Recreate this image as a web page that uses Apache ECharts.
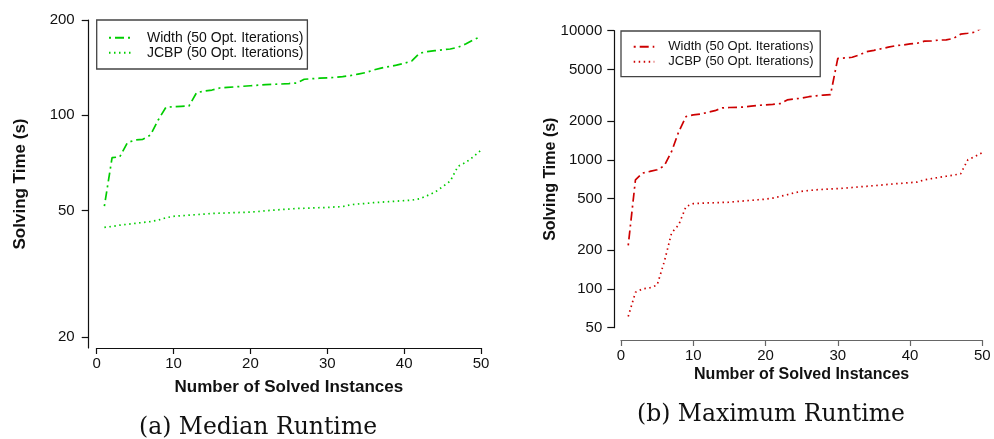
<!DOCTYPE html>
<html>
<head>
<meta charset="utf-8">
<script src="https://cdn.jsdelivr.net/npm/echarts@6.0.0/dist/echarts.min.js"></script>
<style>
  html, body { margin: 0; padding: 0; background: #fff; }
  #wrap { position: relative; width: 994px; height: 439px; }
  #left { position: absolute; left: 0; top: 0; width: 497px; height: 439px; }
  #right { position: absolute; left: 497px; top: 0; width: 497px; height: 439px; }
</style>
</head>
<body>
<div id="wrap"><div id="left"></div><div id="right"></div></div>
<script>
// ---- data ----
const instances = [1,2,3,4,5,6,7,8,9,10,11,12,13,14,15,16,17,18,19,20,21,22,23,24,25,26,27,28,29,30,31,32,33,34,35,36,37,38,39,40,41,42,43,44,45,46,47,48,49,50];

const widthMedian = [51.7,73.5,74.0,82.0,83.6,84.0,86.7,96.7,106.0,106.5,106.8,107.0,118.0,119.3,120.2,122.0,122.5,123.0,123.5,124.0,124.5,125.0,125.3,125.6,126.0,126.5,130.0,130.5,131.0,131.3,131.8,132.5,133.5,135.0,136.5,139.0,141.0,142.5,144.0,146.0,148.5,157.0,159.0,160.0,161.0,162.0,164.0,168.0,173.0,177.5];
const jcbpMedian = [44.3,44.6,45.0,45.3,45.6,45.9,46.2,46.7,47.5,48.0,48.2,48.4,48.6,48.8,49.0,49.1,49.2,49.3,49.4,49.5,49.7,50.0,50.2,50.4,50.6,50.8,50.9,51.0,51.1,51.2,51.4,51.5,52.2,52.5,52.7,53.0,53.2,53.4,53.6,53.8,54.0,54.5,55.8,57.2,59.5,62.0,69.0,71.0,74.0,77.7];

const widthMax = [217,700,789,812,837,899,1159,1655,2163,2229,2260,2330,2400,2520,2540,2550,2560,2600,2640,2665,2690,2720,2910,2960,3000,3080,3130,3170,3200,6100,6150,6230,6500,6880,7050,7250,7450,7650,7750,7900,8000,8300,8350,8450,8500,8700,9400,9550,9750,10600];
const jcbpMax = [61,94,100,102,107,163,271,314,435,457,460,463,465,467,469,475,480,485,490,495,505,520,536,555,570,578,585,590,595,598,603,610,617,623,630,637,645,652,658,665,672,700,715,730,745,760,779,1000,1060,1138];

const xTicks = [0,10,20,30,40,50];
const medianYTicks = [20,50,100,200];
const maxYTicks = [50,100,200,500,1000,2000,5000,10000];

const seriesNames = ['Width (50 Opt. Iterations)', 'JCBP (50 Opt. Iterations)'];
const captions = ['(a) Median Runtime', '(b) Maximum Runtime'];
const xName = 'Number of Solved Instances';
const yName = 'Solving Time (s)';

// ---- helpers ----
const SANS = '"Liberation Sans", Arial, Helvetica, sans-serif';
const SERIF = '"DejaVu Serif", "Liberation Serif", serif';
function pairs(ys) { return instances.map((x, i) => [x, ys[i]]); }

function build(cfg) {
  return {
    animation: false,
    textStyle: { fontFamily: SANS },
    title: {
      text: cfg.caption, left: cfg.capLeft, top: cfg.capTop, padding: 0,
      textStyle: { fontFamily: SERIF, fontWeight: 'normal', fontSize: 23.5, color: '#111' }
    },
    legend: {
      orient: 'vertical', left: cfg.legLeft, top: cfg.legTop,
      padding: cfg.legPad, itemWidth: cfg.legItemW, itemHeight: cfg.legItemH, itemGap: cfg.legGap,
      borderColor: '#444', borderWidth: 1.3,
      itemStyle: { opacity: 0 },
      textStyle: { fontFamily: SANS, fontSize: cfg.legFont, color: '#111', padding: [0, 0, 0, 9] },
      data: seriesNames
    },
    grid: { left: cfg.gridL, right: cfg.gridR, top: cfg.gridT, bottom: cfg.gridB, containLabel: false },
    xAxis: {
      type: 'value', min: 0, max: 50, interval: 10, offset: cfg.xOffset,
      name: xName, nameLocation: 'middle', nameGap: cfg.xNameGap, nameMoveOverlap: false,
      nameTextStyle: { fontFamily: SANS, fontWeight: 'bold', fontSize: cfg.nameFont, color: '#111' },
      axisLine: { onZero: false, lineStyle: { color: cfg.xLineColor, width: 1.2 } },
      axisTick: { length: 6, lineStyle: { color: cfg.xLineColor, width: 1.2 } },
      axisLabel: { fontSize: 15, color: '#111', margin: 8, customValues: xTicks },
      splitLine: { show: false }
    },
    yAxis: {
      type: 'log', min: cfg.yMin, max: cfg.yMax, offset: cfg.yOffset,
      name: yName, nameLocation: 'middle', nameGap: cfg.yNameGap, nameMoveOverlap: false,
      nameTextStyle: { fontFamily: SANS, fontWeight: 'bold', fontSize: cfg.nameFont, color: '#111' },
      axisLine: { show: true, onZero: false, lineStyle: { color: '#111', width: 1.2 } },
      axisTick: { show: true, length: 7, lineStyle: { color: '#111', width: 1.2 }, customValues: cfg.yTicks },
      axisLabel: { fontSize: 15, color: '#111', margin: cfg.yLabelMargin, customValues: cfg.yTicks,
                   formatter: v => String(Math.round(v)) },
      splitLine: { show: false }
    },
    series: [
      { name: seriesNames[0], type: 'line', symbol: 'none', data: pairs(cfg.width),
        lineStyle: { color: cfg.color, width: 1.7, type: [2, 4, 9, 4] }, itemStyle: { color: cfg.color } },
      { name: seriesNames[1], type: 'line', symbol: 'none', data: pairs(cfg.jcbp),
        lineStyle: { color: cfg.color, width: 1.7, type: [1.5, 3.5] }, itemStyle: { color: cfg.color } }
    ]
  };
}

const left = echarts.init(document.getElementById('left'), null, { renderer: 'canvas' });
left.setOption(build({
  caption: captions[0], capLeft: 139, capTop: 416,
  legLeft: 96.7, legTop: 20, legPad: [10.7, 4, 9.3, 11.3], legItemW: 24, legItemH: 14, legGap: 1, legFont: 14,
  gridL: 96.7, gridR: 16, gridT: 20, gridB: 91,
  xOffset: 0, xNameGap: 31, xLineColor: '#111',
  yMin: 18.43, yMax: 200, yOffset: 8, yNameGap: 60, yLabelMargin: 14, yTicks: medianYTicks,
  nameFont: 17, color: '#00CD00', width: widthMedian, jcbp: jcbpMedian
}));

const right = echarts.init(document.getElementById('right'), null, { renderer: 'canvas' });
right.setOption(build({
  caption: captions[1], capLeft: 140, capTop: 403,
  legLeft: 124, legTop: 31, legPad: [9.2, 6.7, 8.5, 11.7], legItemW: 20.6, legItemH: 13, legGap: 2, legFont: 13,
  gridL: 124, gridR: 11.7, gridT: 30.7, gridB: 111.3,
  xOffset: 12.3, xNameGap: 27, xLineColor: '#666',
  yMin: 50, yMax: 10000, yOffset: 6.7, yNameGap: 56, yLabelMargin: 12, yTicks: maxYTicks,
  nameFont: 16, color: '#CD0000', width: widthMax, jcbp: jcbpMax
}));
</script>
</body>
</html>
